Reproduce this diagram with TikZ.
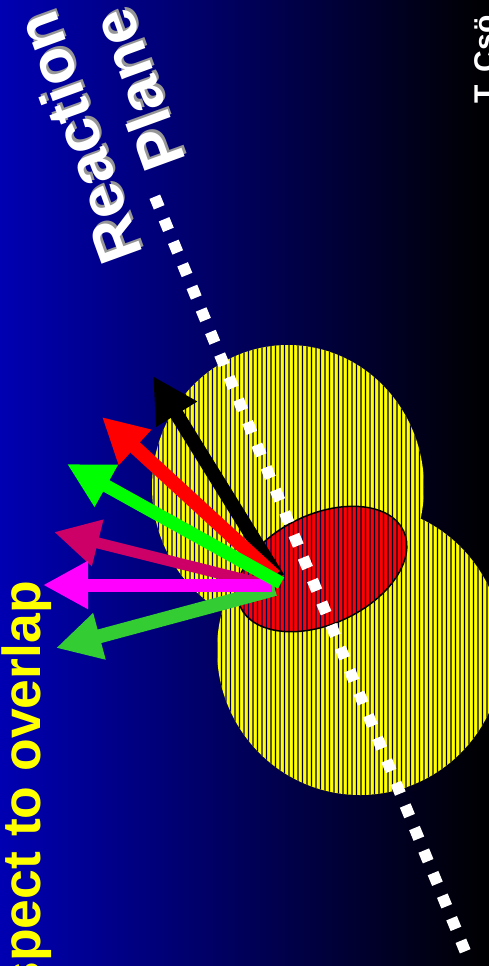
\documentclass[tikz,border=0pt]{standalone}
\usepackage{fontspec}
\setmainfont{Liberation Sans}
\usetikzlibrary{arrows.meta}
\definecolor{bgblue}{RGB}{0,0,178}
\definecolor{crimsonx}{RGB}{204,0,102}
\definecolor{limex}{RGB}{51,204,51}
\definecolor{greenx}{RGB}{0,255,0}
\definecolor{magentax}{RGB}{255,0,255}
\definecolor{shadowgray}{RGB}{150,150,150}
\definecolor{yellowx}{RGB}{255,255,0}
\tikzset{
  bgshade/.style={left color=bgblue, right color=black},
  vecarrow/.style={line width=#1, -{Triangle[length=45pt,width=45pt]}},
  rptext/.style={font=\fontsize{62}{70}\selectfont\bfseries, text=white, inner sep=0pt},
  rpshadow/.style={font=\fontsize{62}{70}\selectfont\bfseries, text=shadowgray, inner sep=0pt, xshift=1.5pt, yshift=3pt},
  ovtext/.style={font=\fontsize{53.5}{60}\selectfont\bfseries, text=yellowx, inner sep=0pt},
  authtext/.style={font=\fontsize{30}{36}\selectfont\bfseries, text=white, inner sep=0pt},
  planeline/.style={white, line width=11.5pt, dash pattern=on 11.5pt off 12.88pt}
}
\begin{document}
\begin{tikzpicture}[x=1pt,y=-1pt]
\useasboundingbox (0,0) rectangle (489,966);
\clip (0,0) rectangle (489,966);
\shade[bgshade] (0,0) rectangle (489,966);
% nuclei
\fill[yellowx] (288,487) ellipse [x radius=136, y radius=142];
\fill[yellowx] (360,650) ellipse [x radius=143, y radius=145];
\fill[red, rotate around={25:(322,569)}] (322,569) ellipse [x radius=90, y radius=55];
% hatching: background shows through thin vertical stripes
\begin{scope}
  \clip (288,487) ellipse [x radius=136, y radius=142] (360,650) ellipse [x radius=143, y radius=145];
  \clip \foreach \k in {0,...,77} {(144.35+4.5*\k,0) rectangle ++(1.3,966)};
  \shade[bgshade] (0,0) rectangle (489,966);
\end{scope}
\draw[black, line width=1.5pt, rotate around={25:(322,569)}] (322,569) ellipse [x radius=90, y radius=55];
% reaction plane
\coordinate (rpA) at (154.8,196.7);
\coordinate (rpB) at (465.2,951.3);
\draw[planeline] (rpA) -- (rpB);
% flow vectors
\coordinate (oK) at (278,578);
\coordinate (tK) at (153,376);
\coordinate (oR) at (275,576);
\coordinate (tR) at (102,417);
\coordinate (oC) at (270,586);
\coordinate (tC) at (54,532);
\coordinate (oL) at (275,589);
\coordinate (tL) at (56,648);
\coordinate (oM) at (272,585);
\coordinate (tM) at (43,585);
\coordinate (oG) at (281,583);
\coordinate (tG) at (67,464);
\draw[vecarrow=14pt, black] (oK) -- (tK);
\draw[vecarrow=14pt, red] (oR) -- (tR);
\draw[vecarrow=11pt, crimsonx] (oC) -- (tC);
\draw[vecarrow=14pt, limex] (oL) -- (tL);
\draw[vecarrow=13pt, magentax] (oM) -- (tM);
\draw[vecarrow=13pt, greenx] (oG) -- (tG);
% texts
\node[rpshadow, rotate=110] (reactionsh) at (78,138) {Reaction};
\node[rptext, rotate=110] (reaction) at (78,138) {Reaction};
\node[rpshadow, rotate=110] (planesh) at (137.5,90) {Plane};
\node[rptext, rotate=110] (plane) at (137.5,90) {Plane};
\node[ovtext, rotate=90, anchor=base east] (overlap) at (40,581) {spect to overlap};
\node[authtext, rotate=90, anchor=base west] (author) at (495,104) {T. Csö};
\end{tikzpicture}
\end{document}
